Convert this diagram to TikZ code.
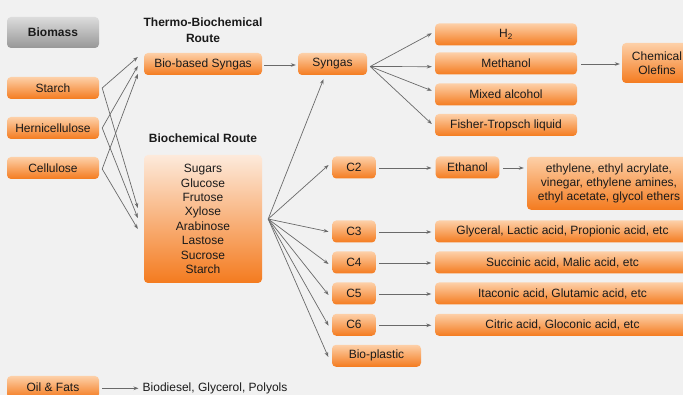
\documentclass[tikz,border=0pt]{standalone}
\usepackage{fontspec}
\setmainfont{Liberation Sans}
\usetikzlibrary{arrows.meta,calc}
\definecolor{bg}{HTML}{F1F1F1}
\definecolor{obTop}{HTML}{FDD0A8}
\definecolor{obBot}{HTML}{F47B1F}
\definecolor{bigTop}{HTML}{FDEADB}
\definecolor{grTop}{HTML}{DCDCDC}
\definecolor{grBot}{HTML}{979797}
\definecolor{txt}{HTML}{1A1A1A}
\definecolor{arr}{HTML}{6A6A6A}
\begin{document}
\begin{tikzpicture}[x=1pt,y=-1pt,
  box/.style={rounded corners=4pt, top color=obTop, bottom color=obBot, draw=none,
    inner sep=0pt, align=center, text=txt, font=\fontsize{12}{14.4}\selectfont},
  sbox/.style={box, minimum height=22pt},
  title/.style={align=center, text=txt, font=\bfseries\fontsize{12}{15.5}\selectfont, inner sep=0pt},
  plain/.style={align=left, text=txt, font=\fontsize{12}{14.4}\selectfont, inner sep=0pt},
  arrowline/.style={draw=arr, line width=0.7pt, -{Stealth[length=5pt,width=3.6pt]}}]
\clip (0,0) rectangle (683,395);
\fill[bg] (0,0) rectangle (683,395);

% left column
\node[box, top color=grTop, bottom color=grBot, minimum width=92pt, minimum height=31pt,
  font=\bfseries\fontsize{12}{14.4}\selectfont] (biomass) at (53,32.5) {Biomass};
\node[sbox, minimum width=92pt] (starch) at (53,88) {Starch};
\node[sbox, minimum width=92pt] (hemi) at (53,128) {Hernicellulose};
\node[sbox, minimum width=92pt] (cell) at (53,168) {Cellulose};
\node[sbox, minimum width=92pt] (oil) at (53,387) {Oil \& Fats};
\node[plain, anchor=west] (biod) at (142.5,388) {Biodiesel, Glycerol, Polyols};

% routes
\node[title] (thermo) at (203,30) {Thermo-Biochemical\\Route};
\node[sbox, minimum width=118pt] (bbs) at (203,64) {Bio-based Syngas};
\node[title] (biochem) at (203,138) {Biochemical Route};
\node[box, top color=bigTop, minimum width=118pt, minimum height=128pt] (sugars) at (203,219)
  {Sugars\\Glucose\\Frutose\\Xylose\\Arabinose\\Lastose\\Sucrose\\Starch};

% syngas branch
\node[sbox, minimum width=69pt] (syngas) at (332.5,64) {Syngas};
\node[sbox, minimum width=142pt] (h2) at (506,34.5) {H\textsubscript{2}};
\node[sbox, minimum width=142pt] (meth) at (506,63.5) {Methanol};
\node[sbox, minimum width=142pt] (mixed) at (506,94.5) {Mixed alcohol};
\node[sbox, minimum width=142pt] (ft) at (506,125) {Fisher-Tropsch liquid};
\node[box, minimum width=70pt, minimum height=40pt] (chem) at (657,63) {Chemical\\Olefins};

% C branch
\node[sbox, minimum width=43.5pt] (c2) at (354,167.5) {C2};
\node[sbox, minimum width=43.5pt] (c3) at (354,231.5) {C3};
\node[sbox, minimum width=43.5pt] (c4) at (354,262.5) {C4};
\node[sbox, minimum width=43.5pt] (c5) at (354,293.5) {C5};
\node[sbox, minimum width=43.5pt] (c6) at (354,324.8) {C6};
\node[sbox, minimum width=89pt] (bioplastic) at (376.5,355.8) {Bio-plastic};
\node[sbox, minimum width=63.6pt] (ethanol) at (467.5,167.5) {Ethanol};
\node[box, minimum width=164pt, minimum height=53pt] (ethyl) at (609,183.3)
  {ethylene, ethyl acrylate,\\vinegar, ethylene amines,\\ethyl acetate, glycol ethers};
\node[sbox, minimum width=255pt] (p3) at (562.5,231.5) {Glyceral, Lactic acid, Propionic acid, etc};
\node[sbox, minimum width=255pt] (p4) at (562.5,262.5) {Succinic acid, Malic acid, etc};
\node[sbox, minimum width=255pt] (p5) at (562.5,293.5) {Itaconic acid, Glutamic acid, etc};
\node[sbox, minimum width=255pt] (p6) at (562.5,324.8) {Citric acid, Gloconic acid, etc};

% fan points
\coordinate (sR) at ($(starch.east)+(3,0)$);
\coordinate (hR) at ($(hemi.east)+(3,0)$);
\coordinate (cR) at ($(cell.east)+(3,1)$);
\coordinate (sugR) at ($(sugars.east)+(6,0)$);
\coordinate (synR) at ($(syngas.east)+(3,2.5)$);

% left fans
\draw[arrowline] (sR) -- ($(bbs.west)+(-6,-7)$);
\draw[arrowline] (hR) -- ($(bbs.west)+(-6,2)$);
\draw[arrowline] (cR) -- ($(bbs.west)+(-6,10)$);
\draw[arrowline] (sR) -- ($(sugars.west)+(-6,-11)$);
\draw[arrowline] (hR) -- ($(sugars.west)+(-6,-1)$);
\draw[arrowline] (cR) -- ($(sugars.west)+(-6,10)$);

% syngas
\draw[arrowline] ($(bbs.east)+(2,1)$) -- ($(syngas.west)+(-2,1)$);
\draw[arrowline] (synR) -- ($(h2.west)+(-3,-1.2)$);
\draw[arrowline] (synR) -- ($(meth.west)+(-3,3.2)$);
\draw[arrowline] (synR) -- ($(mixed.west)+(-3,-3.8)$);
\draw[arrowline] (synR) -- ($(ft.west)+(-3,-1)$);
\draw[arrowline] ($(meth.east)+(4,0.5)$) -- ($(chem.west)+(-2,1)$);

% sugars fan
\draw[arrowline] (sugR) -- ($(syngas.south)+(-9,4)$);
\draw[arrowline] (sugR) -- ($(c2.west)+(-3.5,-2.5)$);
\draw[arrowline] (sugR) -- ($(c3.west)+(-3.5,0.2)$);
\draw[arrowline] (sugR) -- ($(c4.west)+(-3.5,1.5)$);
\draw[arrowline] (sugR) -- ($(c5.west)+(-3.5,1.5)$);
\draw[arrowline] (sugR) -- ($(c6.west)+(-3.5,0.9)$);
\draw[arrowline] (sugR) -- ($(bioplastic.west)+(-3.5,1.2)$);

% C rows
\draw[arrowline] ($(c2.east)+(3.5,0.5)$) -- ($(ethanol.west)+(-4,0.5)$);
\draw[arrowline] ($(ethanol.east)+(3.5,0.5)$) -- ($(ethyl.west |- ethanol.west)+(-3,0.5)$);
\draw[arrowline] ($(c3.east)+(3.5,0.5)$) -- ($(p3.west)+(-3.5,0.5)$);
\draw[arrowline] ($(c4.east)+(3.5,0.5)$) -- ($(p4.west)+(-3.5,0.5)$);
\draw[arrowline] ($(c5.east)+(3.5,0.5)$) -- ($(p5.west)+(-3.5,0.5)$);
\draw[arrowline] ($(c6.east)+(3.5,0.5)$) -- ($(p6.west)+(-3.5,0.5)$);

% oil
\draw[arrowline] ($(oil.east)+(3,1.3)$) -- ($(biod.west)+(-4,0.3)$);
\end{tikzpicture}
\end{document}
